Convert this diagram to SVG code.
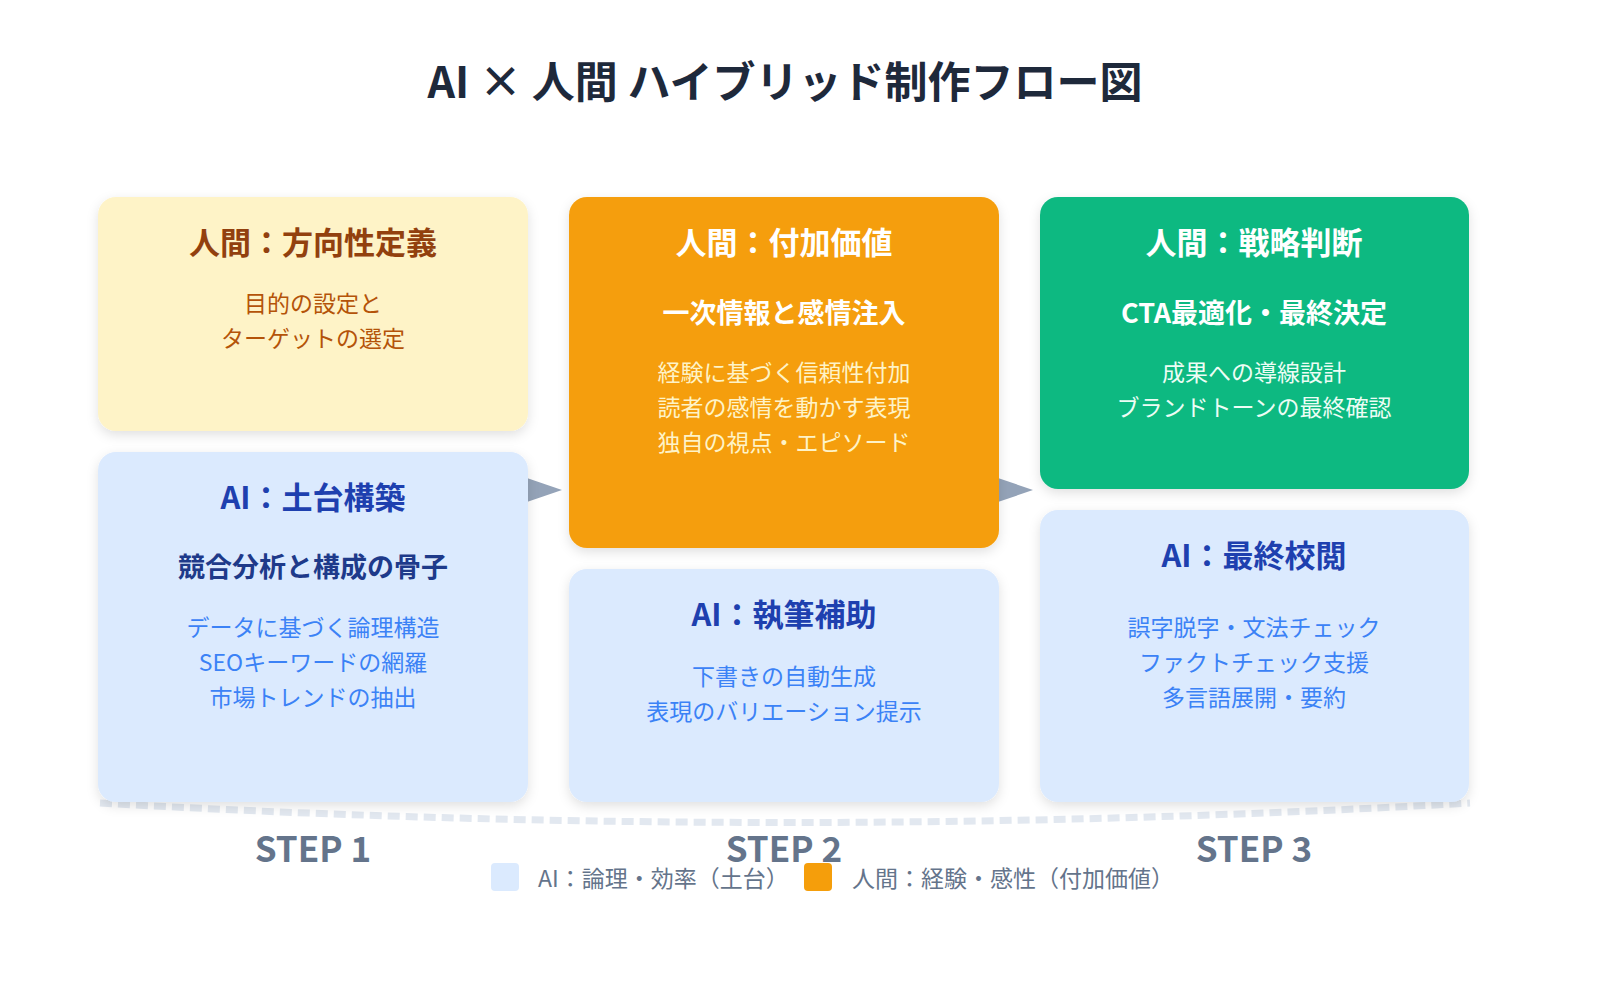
<svg xmlns="http://www.w3.org/2000/svg" width="1600" height="1000" viewBox="0 0 1600 1000">
<defs>
<filter id="sh" x="-10%" y="-10%" width="120%" height="130%"><feDropShadow dx="0" dy="4" stdDeviation="6" flood-color="#000" flood-opacity="0.12"/></filter>
<style>
text{font-family:"Noto Sans CJK JP","Noto Sans",sans-serif;text-anchor:middle}
.t{font-size:31px;font-weight:700}
.s{font-size:27px;font-weight:700}
.b{font-size:23px}
.ai{fill:#dbeafe}
.aih{fill:#1e40af}
.aib{fill:#3b82f6}
.step{font-size:35px;font-weight:700;fill:#64748b}
.lg{font-size:23px;fill:#64748b;text-anchor:start}
</style>
</defs>
<rect width="1600" height="1000" fill="#fff"/>
<text x="785" y="98" font-size="43" font-weight="700" fill="#1e293b">AI × 人間 ハイブリッド制作フロー図</text>

<g id="connectors">
<path d="M100 803 Q785 842 1470 803" fill="none" stroke="#e2e8f0" stroke-width="7" stroke-dasharray="12 6"/>
<polygon points="524,477 562,490 524,503" fill="#94a3b8"/>
<polygon points="995,477 1033,490 995,503" fill="#94a3b8"/>
</g>

<g id="h1"><rect x="98" y="197" width="430" height="234" rx="18" fill="#fef3c7" filter="url(#sh)"/>
<text x="313" y="254" class="t" fill="#92400e">人間：方向性定義</text>
<text x="313" y="312" class="b" fill="#b45309">目的の設定と</text>
<text x="313" y="347" class="b" fill="#b45309">ターゲットの選定</text></g>

<g id="a1"><rect x="98" y="452" width="430" height="350" rx="18" class="ai" filter="url(#sh)"/>
<text x="313" y="509" class="t aih">AI：土台構築</text>
<text x="313" y="577" class="s" fill="#1e3a8a">競合分析と構成の骨子</text>
<text x="313" y="636" class="b aib">データに基づく論理構造</text>
<text x="313" y="671" class="b aib">SEOキーワードの網羅</text>
<text x="313" y="706" class="b aib">市場トレンドの抽出</text></g>

<g id="h2"><rect x="569" y="197" width="430" height="351" rx="18" fill="#f59e0b" filter="url(#sh)"/>
<text x="784" y="254" class="t" fill="#fff">人間：付加価値</text>
<text x="784" y="323" class="s" fill="#fff">一次情報と感情注入</text>
<text x="784" y="381" class="b" fill="#fef3c7">経験に基づく信頼性付加</text>
<text x="784" y="416" class="b" fill="#fef3c7">読者の感情を動かす表現</text>
<text x="784" y="451" class="b" fill="#fef3c7">独自の視点・エピソード</text></g>

<g id="a2"><rect x="569" y="569" width="430" height="233" rx="18" class="ai" filter="url(#sh)"/>
<text x="784" y="626" class="t aih">AI：執筆補助</text>
<text x="784" y="685" class="b aib">下書きの自動生成</text>
<text x="784" y="720" class="b aib">表現のバリエーション提示</text></g>

<g id="h3"><rect x="1040" y="197" width="429" height="292" rx="18" fill="#10b981" filter="url(#sh)"/>
<text x="1254" y="254" class="t" fill="#fff">人間：戦略判断</text>
<text x="1254" y="323" class="s" fill="#fff">CTA最適化・最終決定</text>
<text x="1254" y="381" class="b" fill="#ecfdf5">成果への導線設計</text>
<text x="1254" y="416" class="b" fill="#ecfdf5">ブランドトーンの最終確認</text></g>

<g id="a3"><rect x="1040" y="510" width="429" height="292" rx="18" class="ai" filter="url(#sh)"/>
<text x="1254" y="567" class="t aih">AI：最終校閲</text>
<text x="1254" y="636" class="b aib">誤字脱字・文法チェック</text>
<text x="1254" y="671" class="b aib">ファクトチェック支援</text>
<text x="1254" y="706" class="b aib">多言語展開・要約</text></g>

<g id="steps">
<text x="313" y="862" class="step">STEP 1</text>
<text x="784" y="862" class="step">STEP 2</text>
<text x="1254" y="862" class="step">STEP 3</text>
</g>
<g id="legend">
<rect x="491" y="863" width="28" height="28" rx="4" fill="#dbeafe"/>
<text x="538" y="887" class="lg">AI：論理・効率（土台）</text>
<rect x="804" y="863" width="28" height="28" rx="4" fill="#f59e0b"/>
<text x="852" y="887" class="lg">人間：経験・感性（付加価値）</text>
</g>
</svg>
